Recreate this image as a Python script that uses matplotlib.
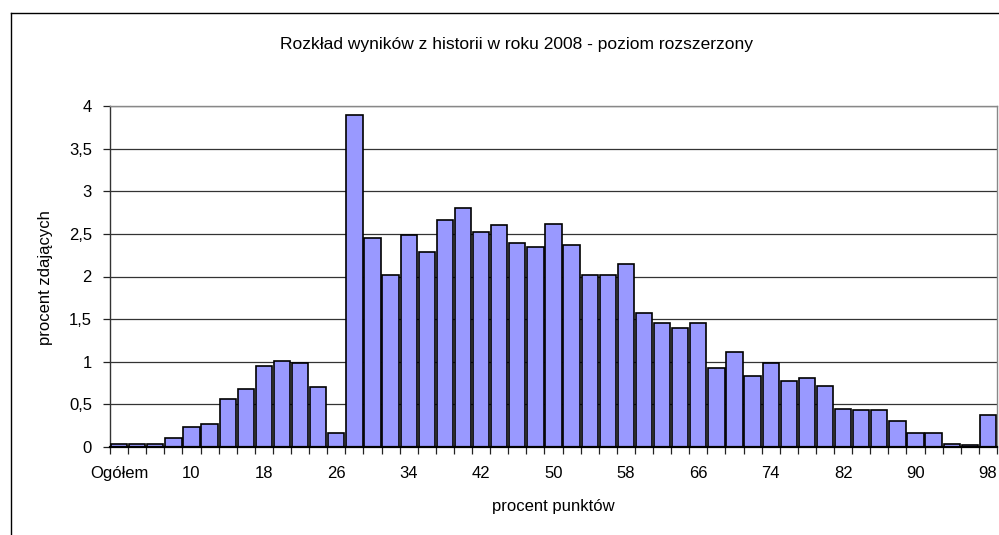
import matplotlib
matplotlib.use("Agg")
import matplotlib.pyplot as plt
from matplotlib.lines import Line2D
from matplotlib.ticker import FuncFormatter
import numpy as np

plt.rcParams['font.family'] = ['Liberation Sans', 'DejaVu Sans']

categories = ["Ogółem"] + [str(v) for v in range(4, 100, 2)]
values = [0.04, 0.04, 0.04, 0.11, 0.23, 0.27, 0.56, 0.68, 0.95, 1.01,
          0.99, 0.70, 0.16, 3.90, 2.45, 2.02, 2.49, 2.29, 2.66, 2.80,
          2.52, 2.60, 2.39, 2.35, 2.62, 2.37, 2.02, 2.02, 2.15, 1.57,
          1.45, 1.40, 1.45, 0.93, 1.11, 0.83, 0.99, 0.77, 0.81, 0.72,
          0.45, 0.43, 0.43, 0.31, 0.17, 0.16, 0.04, 0.02, 0.37]
yticks = [0, 0.5, 1, 1.5, 2, 2.5, 3, 3.5, 4]

title = "Rozkład wyników z historii w roku 2008 - poziom rozszerzony"
xlabel = "procent punktów"
ylabel = "procent zdających"

FS = 12

fig = plt.figure(figsize=(9.99, 5.35), dpi=100)
ax = fig.add_axes([110/999, 1-447/535, (997-110)/999, (447-106)/535])

x = np.arange(len(categories))
ax.bar(x, values, width=0.9, color='#9999FF', edgecolor='black', linewidth=1.2, zorder=3)

ax.set_xlim(-0.5, len(categories) - 0.5)
ax.set_ylim(0, 4)

ax.set_yticks(yticks)
ax.yaxis.set_major_formatter(FuncFormatter(lambda v, p: ('%g' % v).replace('.', ',')))
ax.grid(axis='y', color='#333333', linewidth=0.9, zorder=0)

ax.set_xticks(np.arange(-0.5, len(categories), 1.0))
ax.set_xticklabels([])
ax.set_xticks(x[::4], minor=True)
ax.set_xticklabels([categories[i] for i in x[::4]], minor=True)
ax.tick_params(axis='x', which='major', direction='out', length=5, width=0.9, color='#222222')
ax.tick_params(axis='x', which='minor', length=0, pad=14, labelsize=FS)
ax.tick_params(axis='y', direction='out', length=5, width=0.9, color='#222222', labelsize=FS, pad=8)

for s in ['top', 'right']:
    ax.spines[s].set_color('#888888')
    ax.spines[s].set_linewidth(1.0)
ax.spines['left'].set_color('#333333')
ax.spines['left'].set_linewidth(1.0)
ax.spines['bottom'].set_color('black')
ax.spines['bottom'].set_linewidth(1.6)
ax.spines['bottom'].set_zorder(4)

fig.text(517/999, 1-44/535, title, ha='center', va='center', fontsize=12.5)
fig.text(553/999, 1-507/535, xlabel, ha='center', va='center', fontsize=FS)
fig.text(46/999, 1-278/535, ylabel, ha='center', va='center', rotation=90, fontsize=FS)

fig.add_artist(Line2D([10.5/999, 10.5/999], [0, 1-12.5/535], transform=fig.transFigure,
                      color='black', linewidth=1.0))
fig.add_artist(Line2D([10.5/999, 1.0], [1-12.5/535, 1-12.5/535], transform=fig.transFigure,
                      color='black', linewidth=1.0))

fig.savefig('out.png', dpi=100)
